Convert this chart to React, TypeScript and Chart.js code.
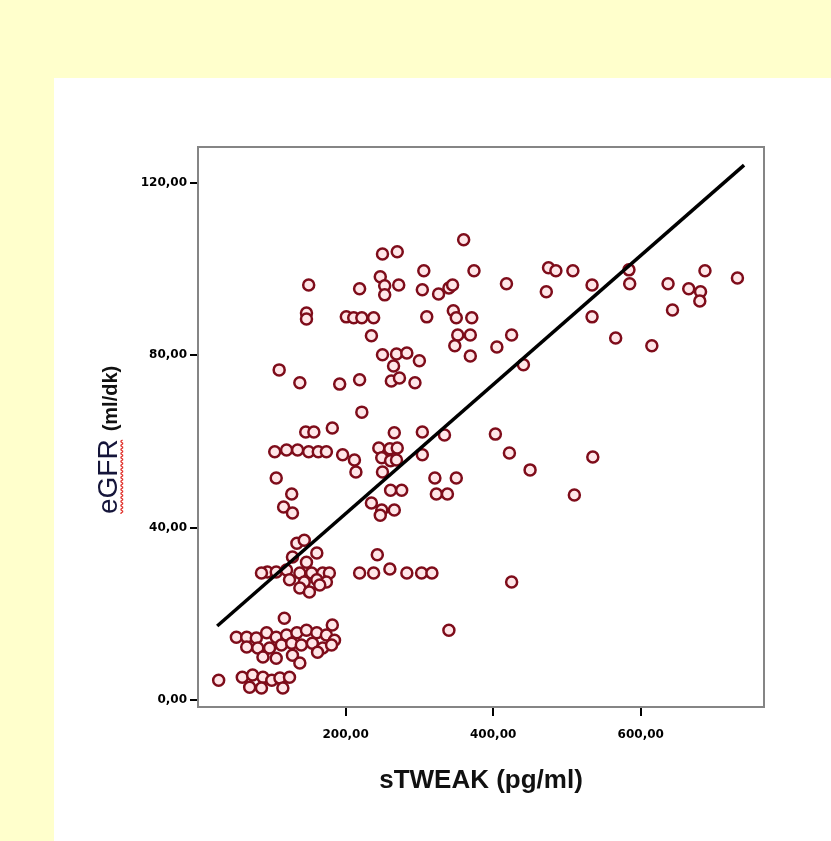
import React, { useEffect, useRef } from "react";
import { Chart, registerables } from "chart.js";

Chart.register(...registerables);

// sTWEAK (pg/ml) values
const sTweak: number[] = [
  360, 250, 270, 306, 374, 247, 150, 219, 253, 272, 253, 304, 326, 340, 345,
  147, 147, 201, 211, 222, 238, 235, 310, 346, 350, 371, 352, 369, 348, 369,
  405, 250, 269, 283, 300, 265, 110, 138, 192, 219, 262, 273, 294,
  475, 485, 508, 584, 585, 687, 731, 418, 534, 637, 665, 681, 680, 472, 643,
  534, 566, 615, 425, 441,
  222, 146, 157, 182, 266, 304, 334, 403, 104, 120, 135, 150, 163, 174, 196,
  212, 214, 245, 260, 270, 249, 261, 269, 304, 250, 106, 321, 350, 261, 276,
  323, 338, 127, 116, 128, 235, 249, 266, 247, 243, 219, 238, 260, 283, 303,
  317, 340, 422, 450, 535, 510, 425,
  134, 144, 161, 128, 147, 94, 106, 120, 138, 154, 169, 178, 124, 144, 161,
  174, 138, 165, 151, 86,
  117, 182, 52, 66, 79, 93, 106, 120, 134, 147, 161, 174, 185, 66, 81, 97,
  113, 127, 140, 155, 169, 181, 88, 106, 128, 138, 162, 28, 60, 74, 88, 100,
  111, 124, 70, 86, 115,
];

// eGFR (ml/dk) values
const eGfr: number[] = [
  106.8, 103.5, 104.0, 99.6, 99.6, 98.2, 96.3, 95.4, 96.1, 96.3, 94.0, 95.2, 94.2, 95.6, 96.3,
  89.8, 88.4, 88.9, 88.7, 88.7, 88.7, 84.5, 88.9, 90.3, 88.7, 88.7, 84.7, 84.7, 82.2, 79.8,
  81.9, 80.1, 80.3, 80.5, 78.7, 77.5, 76.6, 73.6, 73.3, 74.3, 74.0, 74.7, 73.6,
  100.3, 99.6, 99.6, 99.8, 96.6, 99.6, 97.9, 96.6, 96.3, 96.6, 95.4, 94.7, 92.6, 94.7, 90.5,
  88.9, 84.0, 82.2, 84.7, 77.8,
  66.8, 62.2, 62.2, 63.1, 62.0, 62.2, 61.5, 61.7, 57.6, 58.0, 58.0, 57.6, 57.6, 57.6, 56.9,
  55.7, 52.9, 58.5, 58.3, 58.5, 56.2, 55.5, 55.7, 56.9, 52.9, 51.5, 51.5, 51.5, 48.7, 48.7,
  47.8, 47.8, 47.8, 44.8, 43.4, 45.7, 44.1, 44.1, 42.9, 33.7, 29.5, 29.5, 30.4, 29.5, 29.5,
  29.5, 16.2, 57.3, 53.4, 56.4, 47.6, 27.4,
  36.4, 37.1, 34.1, 33.2, 32.0, 29.7, 29.7, 30.2, 29.5, 29.5, 29.5, 29.5, 27.9, 27.4, 27.9,
  27.4, 26.0, 26.7, 25.1, 29.5,
  19.0, 17.4, 14.6, 14.6, 14.4, 15.6, 14.6, 15.1, 15.6, 16.2, 15.6, 15.1, 13.9, 12.3, 12.1, 12.1,
  12.8, 13.2, 12.8, 13.2, 12.1, 12.8, 10.0, 9.7, 10.4, 8.6, 11.1, 4.6, 5.3, 5.8, 5.3, 4.6,
  5.1, 5.3, 3.0, 2.8, 2.8,
];

// Fit line end points
const fitX: number[] = [26, 740];
const fitY: number[] = [17.2, 124.1];

const xTicks: number[] = [200, 400, 600];
const yTicks: number[] = [0, 40, 80, 120];

const xTitle = "sTWEAK (pg/ml)";
const yTitleMain = "eGFR";
const yTitleUnit = "(ml/dk)";

const fmt = (v: number) => v.toFixed(2).replace(".", ",");

const framePlugin = {
  id: "frameAndTitle",
  afterDraw(chart: any) {
    const { ctx, chartArea } = chart;
    ctx.save();
    ctx.strokeStyle = "#858585";
    ctx.lineWidth = 2;
    ctx.strokeRect(chartArea.left, chartArea.top, chartArea.right - chartArea.left, chartArea.bottom - chartArea.top);
    ctx.restore();

    // y axis title (rotated), two fonts
    ctx.save();
    ctx.translate(54, 436);
    ctx.rotate(-Math.PI / 2);
    ctx.textBaseline = "alphabetic";
    ctx.textAlign = "left";
    ctx.font = "28px 'Liberation Sans', Arial, sans-serif";
    ctx.fillStyle = "#15153a";
    ctx.fillText(yTitleMain, 0, 9);
    const w1 = ctx.measureText(yTitleMain).width;
    // red wavy underline
    ctx.strokeStyle = "#e0302a";
    ctx.lineWidth = 1.3;
    ctx.beginPath();
    for (let i = 0; i <= w1; i += 1) {
      const yy = 13 + (Math.floor(i / 2) % 2 === 0 ? 0 : 1.6);
      if (i === 0) ctx.moveTo(i, yy);
      else ctx.lineTo(i, yy);
    }
    ctx.stroke();
    ctx.font = "bold 20px 'Liberation Sans', Arial, sans-serif";
    ctx.fillStyle = "#111";
    ctx.fillText(yTitleUnit, w1 + 8, 9);
    ctx.restore();
  },
};

export default function App() {
  const ref = useRef<HTMLCanvasElement | null>(null);

  useEffect(() => {
    if (!ref.current) return;
    const points = sTweak.map((x, i) => ({ x, y: eGfr[i] }));
    const line = fitX.map((x, i) => ({ x, y: fitY[i] }));
    const tickFont = { family: "'DejaVu Sans', sans-serif", size: 12, weight: "bold" as const };
    const chart = new Chart(ref.current, {
      type: "scatter",
      data: {
        datasets: [
          {
            type: "line",
            label: "fit",
            data: line,
            borderColor: "#000",
            borderWidth: 3.5,
            pointRadius: 0,
            showLine: true,
            fill: false,
            order: 0,
          } as any,
          {
            label: "eGFR",
            data: points,
            pointStyle: "circle",
            pointRadius: 5.5,
            borderWidth: 2.5,
            borderColor: "#7e0c1a",
            backgroundColor: "#ffe6e8",
            order: 1,
          },
        ],
      },
      options: {
        animation: false,
        responsive: true,
        maintainAspectRatio: false,
        layout: { padding: { top: 69, right: 67, left: 0, bottom: 0 } },
        plugins: { legend: { display: false }, tooltip: { enabled: false } },
        scales: {
          x: {
            type: "linear",
            min: 0,
            max: 767,
            afterBuildTicks: (s: any) => {
              s.ticks = xTicks.map((v) => ({ value: v }));
            },
            afterFit: (s: any) => {
              s.height = 134;
            },
            grid: { drawOnChartArea: false, drawTicks: true, tickLength: 9, color: "#000", lineWidth: 2 },
            border: { display: true, color: "#858585", width: 2 },
            ticks: {
              color: "#000",
              font: tickFont,
              padding: 12,
              maxRotation: 0,
              callback: (v: any) => fmt(Number(v)),
            },
            title: {
              display: true,
              text: xTitle,
              color: "#111",
              font: { family: "'Liberation Sans', Arial, sans-serif", size: 26, weight: "bold" },
              padding: { top: 0, bottom: 45 },
            },
          },
          y: {
            type: "linear",
            min: -1.6,
            max: 128.3,
            afterBuildTicks: (s: any) => {
              s.ticks = yTicks.map((v) => ({ value: v }));
            },
            afterFit: (s: any) => {
              s.width = 144;
            },
            grid: { drawOnChartArea: false, drawTicks: true, tickLength: 8, color: "#000", lineWidth: 2 },
            border: { display: true, color: "#858585", width: 2 },
            ticks: {
              color: "#000",
              font: tickFont,
              padding: 3,
              callback: (v: any) => fmt(Number(v)),
            },
            title: { display: false },
          },
        },
      },
      plugins: [framePlugin],
    });
    return () => chart.destroy();
  }, []);

  return (
    <div style={{ position: "fixed", inset: 0, background: "#FFFFCC", overflow: "hidden" }}>
      <div
        style={{
          position: "absolute",
          left: 54,
          top: 78,
          width: 777,
          height: 763,
          background: "#ffffff",
        }}
      >
        <canvas ref={ref} />
      </div>
    </div>
  );
}
